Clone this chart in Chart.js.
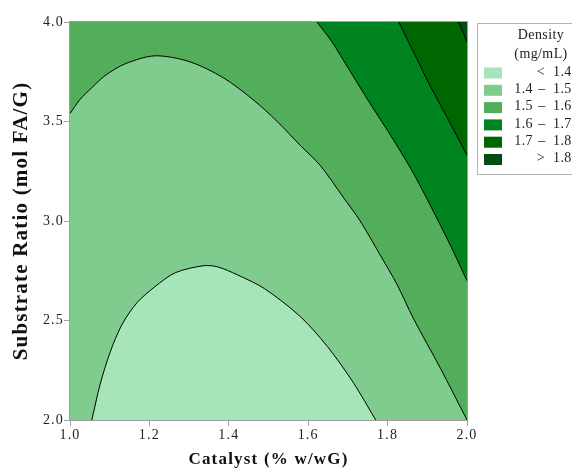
<!DOCTYPE html>
<html>
<head>
<meta charset="utf-8">
<script src="https://cdn.jsdelivr.net/npm/chart.js@4.4.0/dist/chart.umd.min.js"></script>
<style>
  html, body { margin: 0; padding: 0; background: #fff; }
</style>
</head>
<body>
<canvas id="chart" width="572" height="468"></canvas>
<script>
// contour lines: [catalyst, substrate ratio]
const CONTOUR_14 = [
  [1.055, 2.00], [1.076, 2.18], [1.101, 2.34], [1.131, 2.48], [1.169, 2.59],
  [1.214, 2.67], [1.265, 2.74], [1.335, 2.775], [1.371, 2.77], [1.421, 2.73],
  [1.490, 2.66], [1.580, 2.52], [1.648, 2.37], [1.713, 2.19], [1.770, 2.00],
];
const CONTOUR_15 = [
  [1.000, 3.54], [1.025, 3.61], [1.055, 3.67], [1.088, 3.73], [1.139, 3.79],
  [1.214, 3.83], [1.302, 3.80], [1.386, 3.72], [1.461, 3.61], [1.522, 3.50],
  [1.580, 3.38], [1.630, 3.28], [1.688, 3.12], [1.731, 3.00], [1.781, 2.83],
  [1.824, 2.68], [1.865, 2.51], [1.933, 2.26], [2.000, 2.00],
];
const CONTOUR_16 = [
  [1.622, 4.00], [1.660, 3.90], [1.688, 3.81], [1.756, 3.59], [1.814, 3.41],
  [1.865, 3.24], [1.920, 3.03], [1.960, 2.87], [2.000, 2.70],
];
const CONTOUR_17 = [
  [1.828, 4.00], [1.865, 3.85], [1.907, 3.68], [1.950, 3.52], [2.000, 3.33],
];
const CONTOUR_18 = [
  [1.979, 4.00], [2.000, 3.90],
];

const X_TICKS = [1.0, 1.2, 1.4, 1.6, 1.8, 2.0];
const Y_TICKS = [2.0, 2.5, 3.0, 3.5, 4.0];

const BAND_LOW = [null, 1.4, 1.5, 1.6, 1.7, 1.8];
const BAND_HIGH = [1.4, 1.5, 1.6, 1.7, 1.8, null];
const BAND_COLORS = ['#a6e4ba', '#80cc8e', '#52ae5a', '#008420', '#006600', '#004d14'];

const SERIF = '"Liberation Serif", "Times New Roman", serif';
Chart.defaults.font.family = SERIF;

const toPts = (arr) => arr.map(([x, y]) => ({ x, y }));

function contour(data, fill, color, order) {
  return {
    data: toPts(data),
    fill,
    backgroundColor: color,
    borderColor: '#000',
    borderWidth: 1,
    pointRadius: 0,
    tension: 0.3,
    order,
  };
}

// glyphs in the picture are wider than Times, so open them up a bit
const spacing = {
  id: 'spacing',
  beforeLayout(chart) { chart.ctx.letterSpacing = '1.2px'; },
  beforeDraw(chart) { chart.ctx.letterSpacing = '1.2px'; },
};

const frame = {
  id: 'frame',
  afterDatasetsDraw(chart) {
    const { ctx, chartArea: a } = chart;
    ctx.save();
    ctx.strokeStyle = '#a0a0a0';
    ctx.lineWidth = 1;
    ctx.strokeRect(a.left - 0.5, a.top - 0.5, a.right - a.left + 1, a.bottom - a.top + 1);
    ctx.restore();
  },
};

const bandLegend = {
  id: 'bandLegend',
  afterDraw(chart) {
    const ctx = chart.ctx;
    ctx.save();
    ctx.letterSpacing = '0.4px';
    ctx.strokeStyle = '#b4b4b4';
    ctx.lineWidth = 1;
    ctx.strokeRect(477.5, 23.5, 110, 151);
    ctx.fillStyle = '#222';
    ctx.font = '14px ' + SERIF;
    ctx.textBaseline = 'middle';
    ctx.textAlign = 'center';
    ctx.fillText('Density', 541, 35.5);
    ctx.fillText('(mg/mL)', 541, 54);
    BAND_COLORS.forEach((c, i) => {
      const y = 72 + i * 17.3;
      ctx.fillStyle = c;
      ctx.fillRect(484, y - 4.5, 18, 11);
      ctx.fillStyle = '#222';
      const lo = BAND_LOW[i];
      const hi = BAND_HIGH[i];
      ctx.textAlign = 'center';
      if (lo === null) {
        ctx.fillText('<', 541, y);
        ctx.textAlign = 'left';
        ctx.fillText(hi.toFixed(1), 553, y);
      } else if (hi === null) {
        ctx.fillText('>', 541, y);
        ctx.textAlign = 'left';
        ctx.fillText(lo.toFixed(1), 553, y);
      } else {
        ctx.fillText('\u2013', 542, y);
        ctx.textAlign = 'right';
        ctx.fillText(lo.toFixed(1), 533, y);
        ctx.textAlign = 'left';
        ctx.fillText(hi.toFixed(1), 553, y);
      }
    });
    ctx.restore();
  },
};

new Chart(document.getElementById('chart'), {
  type: 'line',
  data: {
    datasets: [
      // base band 1.5 - 1.6 covers the whole plot
      { data: toPts([[1.0, 4.0], [2.0, 4.0]]), fill: 'start', backgroundColor: BAND_COLORS[2],
        borderWidth: 0, pointRadius: 0, order: 10 },
      contour(CONTOUR_15, 'start', BAND_COLORS[1], 9),
      contour(CONTOUR_14, 'start', BAND_COLORS[0], 8),
      contour(CONTOUR_16, 'end', BAND_COLORS[3], 7),
      contour(CONTOUR_17, 'end', BAND_COLORS[4], 6),
      contour(CONTOUR_18, 'end', BAND_COLORS[5], 5),
    ],
  },
  options: {
    responsive: false,
    animation: false,
    events: [],
    layout: { padding: { top: 22, right: 105, left: 0, bottom: 0 } },
    plugins: { legend: { display: false }, tooltip: { enabled: false } },
    scales: {
      x: {
        type: 'linear',
        min: 1.0,
        max: 2.0,
        afterBuildTicks: (axis) => { axis.ticks = X_TICKS.map((v) => ({ value: v })); },
        afterFit: (axis) => { axis.height = 48; },
        border: { display: false },
        grid: { drawOnChartArea: false, drawTicks: true, tickLength: 6, tickColor: '#a0a0a0' },
        ticks: { color: '#222', font: { size: 14 }, padding: 1, maxRotation: 0,
          callback: (v) => Number(v).toFixed(1) },
        title: { display: true, text: 'Catalyst (% w/wG)', color: '#111',
          font: { size: 17, weight: 'bold', lineHeight: 1 }, padding: { top: 0, bottom: 0 } },
      },
      y: {
        min: 2.0,
        max: 4.0,
        afterBuildTicks: (axis) => { axis.ticks = Y_TICKS.map((v) => ({ value: v })); },
        afterFit: (axis) => { axis.width = 70; },
        border: { display: false },
        grid: { drawOnChartArea: false, drawTicks: true, tickLength: 6, tickColor: '#a0a0a0' },
        ticks: { color: '#222', font: { size: 14 }, padding: 0,
          callback: (v) => Number(v).toFixed(1) },
        title: { display: true, text: 'Substrate Ratio (mol FA/G)', color: '#111',
          font: { size: 21, weight: 'bold', lineHeight: 1 }, padding: { top: 11.5, bottom: 0 } },
      },
    },
  },
  plugins: [spacing, frame, bandLegend],
});
</script>
</body>
</html>
